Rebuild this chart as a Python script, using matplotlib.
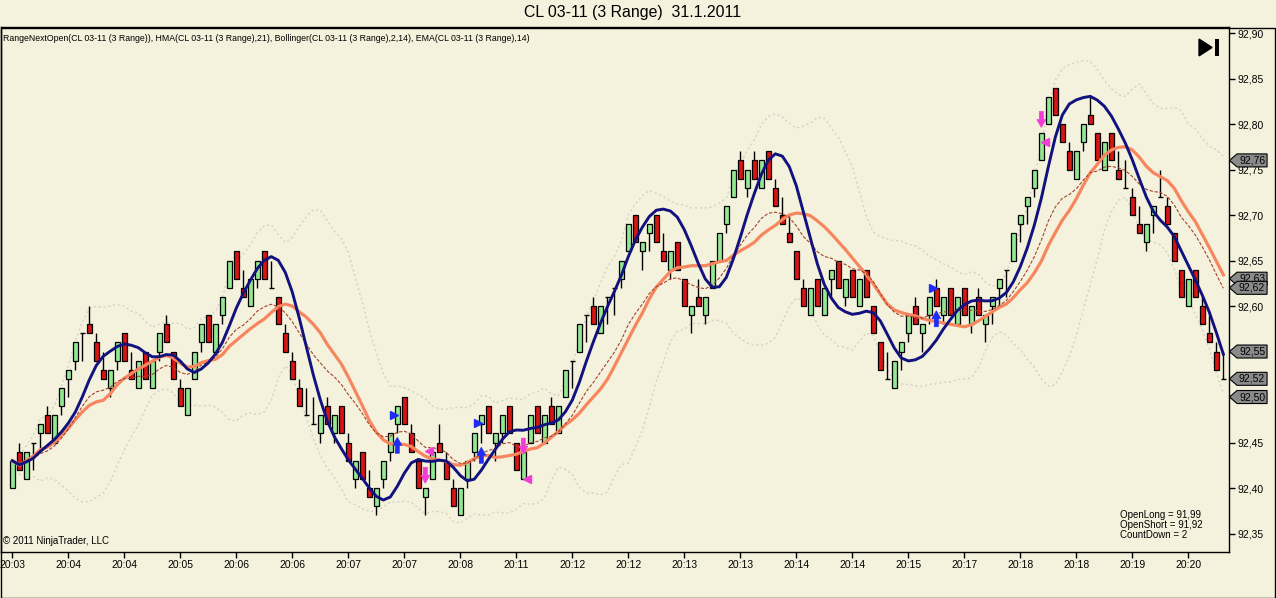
import matplotlib.pyplot as plt
from matplotlib.patches import Polygon, Rectangle
import numpy as np
import pandas as pd

plt.rcParams['font.family'] = ['Liberation Sans', 'DejaVu Sans']

# 3-tick range bars, CL 03-11, 31.1.2011
opens = [92.40, 92.44, 92.41, 92.45, 92.46, 92.48, 92.45, 92.49, 92.52, 92.54,
         92.57, 92.58, 92.56, 92.53, 92.51, 92.54, 92.57, 92.53, 92.51, 92.55,
         92.51, 92.55, 92.58, 92.55, 92.51, 92.48, 92.52, 92.56, 92.59, 92.55,
         92.59, 92.62, 92.66, 92.62, 92.60, 92.63, 92.66, 92.62, 92.61, 92.57,
         92.54, 92.51, 92.48, 92.47, 92.46, 92.49, 92.46, 92.49, 92.45, 92.41,
         92.44, 92.40, 92.38, 92.41, 92.44, 92.47, 92.50, 92.46, 92.43, 92.39,
         92.41, 92.45, 92.43, 92.40, 92.37, 92.41, 92.44, 92.47, 92.49, 92.45,
         92.46, 92.49, 92.45, 92.41, 92.45, 92.49, 92.45, 92.49, 92.46, 92.50,
         92.54, 92.55, 92.59, 92.60, 92.57, 92.61, 92.62, 92.63, 92.66, 92.70,
         92.66, 92.68, 92.70, 92.66, 92.64, 92.67, 92.63, 92.59, 92.61, 92.59,
         92.62, 92.65, 92.69, 92.72, 92.76, 92.73, 92.76, 92.73, 92.77, 92.73,
         92.70, 92.68, 92.66, 92.62, 92.59, 92.63, 92.59, 92.63, 92.65, 92.61,
         92.64, 92.60, 92.64, 92.60, 92.56, 92.52, 92.51, 92.55, 92.57, 92.60,
         92.57, 92.59, 92.62, 92.59, 92.62, 92.58, 92.62, 92.58, 92.61, 92.58,
         92.60, 92.62, 92.64, 92.65, 92.69, 92.71, 92.73, 92.76, 92.80, 92.84,
         92.80, 92.77, 92.74, 92.78, 92.81, 92.79, 92.75, 92.79, 92.75, 92.73,
         92.72, 92.69, 92.67, 92.70, 92.72, 92.71, 92.68, 92.64, 92.60, 92.64,
         92.60, 92.57, 92.55, 92.52]
highs = [92.43, 92.45, 92.44, 92.45, 92.47, 92.49, 92.48, 92.51, 92.53, 92.56,
         92.57, 92.60, 92.57, 92.55, 92.53, 92.56, 92.57, 92.55, 92.54, 92.55,
         92.54, 92.57, 92.59, 92.55, 92.52, 92.51, 92.55, 92.58, 92.59, 92.58,
         92.61, 92.65, 92.66, 92.64, 92.63, 92.65, 92.66, 92.65, 92.61, 92.58,
         92.55, 92.52, 92.51, 92.50, 92.48, 92.50, 92.48, 92.49, 92.46, 92.43,
         92.44, 92.42, 92.40, 92.43, 92.46, 92.49, 92.50, 92.47, 92.43, 92.40,
         92.44, 92.47, 92.44, 92.41, 92.40, 92.43, 92.46, 92.48, 92.49, 92.46,
         92.48, 92.49, 92.45, 92.44, 92.48, 92.49, 92.48, 92.50, 92.49, 92.53,
         92.54, 92.58, 92.59, 92.61, 92.60, 92.61, 92.62, 92.65, 92.69, 92.70,
         92.67, 92.69, 92.70, 92.68, 92.66, 92.67, 92.63, 92.60, 92.63, 92.61,
         92.65, 92.68, 92.71, 92.75, 92.77, 92.75, 92.77, 92.76, 92.77, 92.74,
         92.72, 92.70, 92.66, 92.63, 92.62, 92.63, 92.62, 92.64, 92.65, 92.63,
         92.64, 92.63, 92.64, 92.60, 92.56, 92.55, 92.54, 92.56, 92.59, 92.61,
         92.58, 92.61, 92.63, 92.61, 92.62, 92.61, 92.62, 92.60, 92.62, 92.59,
         92.61, 92.63, 92.64, 92.68, 92.70, 92.72, 92.75, 92.79, 92.83, 92.84,
         92.80, 92.78, 92.77, 92.80, 92.83, 92.79, 92.78, 92.79, 92.77, 92.76,
         92.73, 92.71, 92.69, 92.71, 92.75, 92.72, 92.68, 92.64, 92.63, 92.64,
         92.61, 92.59, 92.56, 92.55]
lows = [92.40, 92.42, 92.41, 92.42, 92.44, 92.46, 92.45, 92.48, 92.50, 92.53,
        92.54, 92.57, 92.54, 92.52, 92.50, 92.53, 92.54, 92.52, 92.51, 92.52,
        92.51, 92.54, 92.56, 92.52, 92.49, 92.48, 92.52, 92.55, 92.56, 92.55,
        92.58, 92.62, 92.63, 92.61, 92.60, 92.62, 92.63, 92.62, 92.58, 92.55,
        92.52, 92.49, 92.48, 92.47, 92.45, 92.47, 92.45, 92.46, 92.43, 92.40,
        92.41, 92.39, 92.37, 92.40, 92.43, 92.46, 92.47, 92.44, 92.40, 92.37,
        92.41, 92.44, 92.41, 92.38, 92.37, 92.40, 92.43, 92.45, 92.46, 92.43,
        92.45, 92.46, 92.42, 92.41, 92.45, 92.46, 92.45, 92.47, 92.46, 92.50,
        92.51, 92.55, 92.56, 92.58, 92.57, 92.58, 92.59, 92.62, 92.66, 92.67,
        92.64, 92.66, 92.67, 92.65, 92.63, 92.64, 92.60, 92.57, 92.60, 92.58,
        92.62, 92.65, 92.68, 92.72, 92.74, 92.72, 92.74, 92.73, 92.74, 92.71,
        92.69, 92.67, 92.63, 92.60, 92.59, 92.60, 92.59, 92.61, 92.62, 92.60,
        92.61, 92.60, 92.61, 92.57, 92.53, 92.52, 92.51, 92.53, 92.56, 92.58,
        92.55, 92.58, 92.60, 92.58, 92.59, 92.58, 92.59, 92.57, 92.59, 92.56,
        92.58, 92.60, 92.61, 92.65, 92.67, 92.69, 92.72, 92.76, 92.80, 92.81,
        92.78, 92.75, 92.74, 92.77, 92.80, 92.76, 92.75, 92.76, 92.74, 92.73,
        92.70, 92.68, 92.66, 92.68, 92.72, 92.69, 92.65, 92.61, 92.60, 92.61,
        92.58, 92.56, 92.53, 92.52]
closes = [92.43, 92.42, 92.44, 92.45, 92.47, 92.46, 92.48, 92.51, 92.53, 92.56,
          92.57, 92.57, 92.54, 92.52, 92.53, 92.56, 92.54, 92.52, 92.54, 92.52,
          92.54, 92.57, 92.56, 92.52, 92.49, 92.51, 92.55, 92.58, 92.56, 92.58,
          92.61, 92.65, 92.63, 92.61, 92.63, 92.65, 92.63, 92.62, 92.58, 92.55,
          92.52, 92.49, 92.48, 92.47, 92.48, 92.47, 92.48, 92.46, 92.43, 92.43,
          92.41, 92.39, 92.40, 92.43, 92.46, 92.49, 92.47, 92.44, 92.40, 92.40,
          92.44, 92.44, 92.41, 92.38, 92.40, 92.43, 92.46, 92.48, 92.46, 92.46,
          92.48, 92.46, 92.42, 92.44, 92.48, 92.46, 92.48, 92.47, 92.49, 92.53,
          92.54, 92.58, 92.59, 92.58, 92.60, 92.61, 92.62, 92.65, 92.69, 92.67,
          92.67, 92.69, 92.67, 92.65, 92.66, 92.64, 92.60, 92.60, 92.60, 92.61,
          92.65, 92.68, 92.71, 92.75, 92.74, 92.75, 92.74, 92.76, 92.74, 92.71,
          92.69, 92.67, 92.63, 92.60, 92.62, 92.60, 92.62, 92.64, 92.62, 92.63,
          92.61, 92.63, 92.61, 92.57, 92.53, 92.52, 92.54, 92.56, 92.59, 92.58,
          92.58, 92.61, 92.60, 92.61, 92.59, 92.61, 92.59, 92.60, 92.59, 92.59,
          92.61, 92.63, 92.64, 92.68, 92.70, 92.72, 92.75, 92.79, 92.83, 92.81,
          92.78, 92.75, 92.77, 92.80, 92.80, 92.76, 92.78, 92.76, 92.74, 92.73,
          92.70, 92.68, 92.69, 92.71, 92.72, 92.69, 92.65, 92.61, 92.63, 92.61,
          92.58, 92.56, 92.53, 92.52]

time_labels = ["20:03", "20:04", "20:04", "20:05", "20:06", "20:06", "20:07", "20:07",
               "20:08", "20:11", "20:12", "20:12", "20:13", "20:13", "20:14", "20:14",
               "20:15", "20:17", "20:18", "20:18", "20:19", "20:20"]

# strategy signals: bar index and price
long_arrow_bars = [55, 67, 132]
long_arrow_prices = [92.447, 92.436, 92.586]
long_mark_prices = [92.48, 92.471, 92.62]
short_arrow_bars = [59, 73, 147]
short_arrow_prices = [92.414, 92.446, 92.805]
short_mark_prices = [92.441, 92.41, 92.78]

bg = "#f4f2dc"
green = "#93e893"
red = "#d81414"
navy = "#12127e"
salmon = "#f7865f"
brown = "#a4432e"
band = "#d2d2c6"
blue = "#1f2df2"
pink = "#f23cd6"

PX_X = 1 / 7      # one pixel in bar units
PX_Y = 1 / 910    # one pixel in price units


def wma(s, n):
    vals = np.asarray(s, dtype=float)
    out = np.empty(len(vals))
    for k in range(len(vals)):
        w = vals[max(0, k - n + 1):k + 1]
        wt = np.arange(1, len(w) + 1)
        out[k] = np.dot(w, wt) / wt.sum()
    return out


def arrow(ax, b, p, color, direction):
    # block arrow about 16 px tall, drawn around (b, p)
    shape = [(-2, -8), (2, -8), (2, 0), (4.5, 0), (0, 8), (-4.5, 0), (-2, 0)]
    pts = [(b + dx * PX_X, p + direction * dy * PX_Y) for dx, dy in shape]
    ax.add_patch(Polygon(pts, closed=True, fc=color, ec=color, lw=0.5, zorder=6))


close_s = pd.Series(closes)
hma = wma(2 * wma(closes, 10) - wma(closes, 21), 4)
mid = close_s.rolling(14, min_periods=1).mean()
std = close_s.rolling(14, min_periods=1).std(ddof=0)
upper = mid + 2 * std
lower = mid - 2 * std
ema = close_s.ewm(span=14, adjust=False).mean()

fig = plt.figure(figsize=(12.76, 5.98), dpi=100, facecolor=bg)
ax = fig.add_axes([1 / 1276, 46 / 598, 1228 / 1276, 525 / 598])
ax.set_facecolor(bg)

x = np.arange(len(closes))
o = np.array(opens)
h = np.array(highs)
l = np.array(lows)
c = np.array(closes)
up = c > o
dn = c < o
flat = c == o

ax.plot(x, upper, color=band, lw=1, ls=(0, (1.5, 2)), zorder=1)
ax.plot(x, lower, color=band, lw=1, ls=(0, (1.5, 2)), zorder=1)

ax.vlines(x, l, h, color="black", lw=1, zorder=2)
ax.bar(x[up], (c - o)[up], bottom=o[up], width=0.72, color=green,
       edgecolor="black", lw=0.9, zorder=3)
ax.bar(x[dn], (o - c)[dn], bottom=c[dn], width=0.72, color=red,
       edgecolor="black", lw=0.9, zorder=3)
ax.hlines(c[flat], x[flat] - 0.36, x[flat] + 0.36, color="black", lw=1, zorder=3)

ax.plot(x, mid, color=salmon, lw=2.3, zorder=4)
ax.plot(x, ema, color=brown, lw=0.8, ls=(0, (3, 1.5)), zorder=4)
ax.plot(x, hma, color=navy, lw=2.1, zorder=5)

# signals
for b, p in zip(long_arrow_bars, long_arrow_prices):
    arrow(ax, b, p, blue, 1)
for b, p in zip(long_arrow_bars, long_mark_prices):
    ax.plot(b - 0.5, p, marker=">", color=blue, ms=5.5, ls="none", zorder=6)
for b, p in zip(short_arrow_bars, short_arrow_prices):
    arrow(ax, b, p, pink, -1)
for b, p in zip(short_arrow_bars, short_mark_prices):
    ax.plot(b + 0.5, p, marker="<", color=pink, ms=5.5, ls="none", zorder=6)

ax.set_xlim(-1.61, 173.81)
ax.set_ylim(92.3297, 92.9066)

ax.set_xticks(x[::8])
ax.set_xticklabels(time_labels)
yt = np.round(np.arange(92.35, 92.901, 0.05), 2)
ax.yaxis.tick_right()
ax.set_yticks(yt)
ax.set_yticklabels([f"{v:.2f}".replace(".", ",") for v in yt])
ax.tick_params(axis="both", length=4, width=1, labelsize=7.5, colors="black", pad=2)
for s in ax.spines.values():
    s.set_color("black")
    s.set_linewidth(1)

# last-value price markers on the right axis
last_vals = [upper.iloc[-1], mid.iloc[-1], ema.iloc[-1], hma[-1], closes[-1], lower.iloc[-1]]
tr = ax.get_yaxis_transform()
hh = 6.5 * PX_Y
for v in last_vals:
    v = round(v, 2)
    pts = [(1.0004, v), (1.0065, v + hh), (1.031, v + hh), (1.031, v - hh), (1.0065, v - hh)]
    ax.add_patch(Polygon(pts, closed=True, transform=tr, clip_on=False,
                         fc="#8a8a8a", ec="black", lw=0.8, zorder=10))
    ax.text(1.0188, v, f"{v:.2f}".replace(".", ","), transform=tr, ha="center",
            va="center", fontsize=7.5, color="black", zorder=11, clip_on=False)

# go-to-end icon
ax.add_patch(Polygon([(0.9756, 0.977), (0.9756, 0.945), (0.9862, 0.961)], closed=True,
                     transform=ax.transAxes, fc="black", ec="black", zorder=10))
ax.add_patch(Rectangle((0.9886, 0.945), 0.0030, 0.032, transform=ax.transAxes,
                       fc="black", ec="none", zorder=10))

ax.text(0.002, 0.979, "RangeNextOpen(CL 03-11 (3 Range)), HMA(CL 03-11 (3 Range),21), "
        "Bollinger(CL 03-11 (3 Range),2,14), EMA(CL 03-11 (3 Range),14)",
        transform=ax.transAxes, ha="left", va="center", fontsize=6.3)
ax.text(0.002, 0.012, "© 2011 NinjaTrader, LLC", transform=ax.transAxes,
        ha="left", va="bottom", fontsize=7)
ax.text(0.911, 0.023, "OpenLong = 91,99\nOpenShort = 91,92\nCountDown = 2",
        transform=ax.transAxes, ha="left", va="bottom", fontsize=7, linespacing=1.0)

fig.text(633 / 1276, 1 - 13 / 598, "CL 03-11 (3 Range)  31.1.2011", ha="center",
         va="center", fontsize=11.4)
fig.add_artist(Rectangle((0.5 / 1276, 0.5 / 598), 1274.5 / 1276, 570 / 598,
                         transform=fig.transFigure, fill=False, ec="black", lw=1))

fig.savefig("out.png", dpi=100, facecolor=bg)
